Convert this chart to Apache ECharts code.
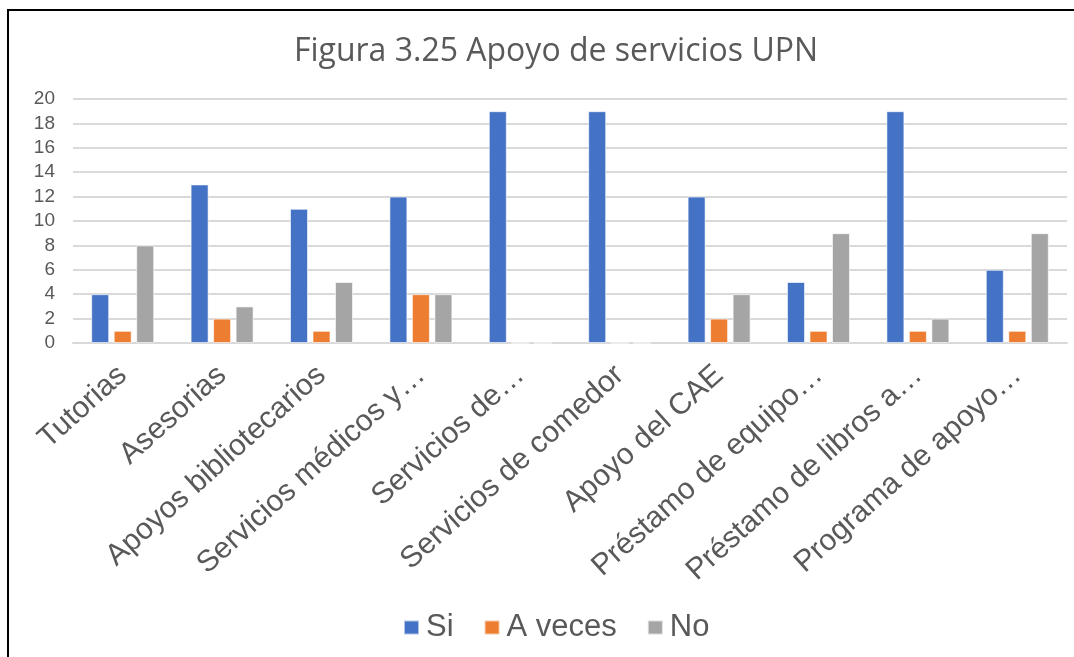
<!DOCTYPE html>
<html>
<head>
<meta charset="utf-8">
<script src="https://cdn.jsdelivr.net/npm/echarts@6/dist/echarts.min.js"></script>
<style>
    html, body {
        margin: 0;
        padding: 0;
        background: #fff;
    }
    #frame {
        position: absolute;
        left: 7px;
        top: 9px;
        width: 1080px;
        height: 660px;
        border-left: 2px solid #000;
        border-top: 2px solid #000;
    }
    #barChart {
        position: absolute;
        left: 0;
        top: 0;
        width: 1074px;
        height: 657px;
    }
</style>
</head>
<body>
<div id="frame"></div>
<div id="barChart"></div>
<script>
const categories = [
    'Tutorias',
    'Asesorias',
    'Apoyos bibliotecarios',
    'Servicios médicos y…',
    'Servicios de…',
    'Servicios de comedor',
    'Apoyo del CAE',
    'Préstamo de equipo…',
    'Préstamo de libros a…',
    'Programa de apoyo…'
];
const siValues = [4, 13, 11, 12, 19, 19, 12, 5, 19, 6];
const aVecesValues = [1, 2, 1, 4, 0, 0, 2, 1, 1, 1];
const noValues = [8, 3, 5, 4, 0, 0, 4, 9, 2, 9];
const yTicks = [0, 2, 4, 6, 8, 10, 12, 14, 16, 18, 20];

const barChart = echarts.init(document.getElementById('barChart'));

function makeSeries(name, data, color) {
    return {
        name: name,
        type: 'bar',
        data: data,
        barWidth: 18,
        barGap: '25%',
        itemStyle: {
            color: color,
            borderColor: 'rgba(255,255,255,0.6)',
            borderWidth: 1
        }
    };
}

barChart.setOption({
    backgroundColor: 'transparent',
    animation: false,
    title: {
        text: 'Figura 3.25 Apoyo de servicios UPN',
        left: 551,
        top: 31,
        textAlign: 'center',
        textStyle: {
            color: '#595959',
            fontFamily: 'Open Sans',
            fontWeight: 'normal',
            fontSize: 32
        }
    },
    legend: {
        bottom: 9,
        left: 398,
        itemWidth: 15,
        itemHeight: 14,
        itemGap: 30,
        icon: 'rect',
        textStyle: {
            color: '#595959',
            fontFamily: 'Liberation Sans',
            fontSize: 31,
            padding: [0, 0, 0, 2]
        },
        data: ['Si', 'A veces', 'No']
    },
    grid: {
        left: 73,
        right: 7,
        top: 99,
        bottom: 314
    },
    xAxis: {
        type: 'category',
        data: categories,
        axisLine: { lineStyle: { color: '#D9D9D9', width: 2 } },
        axisTick: { show: false },
        axisLabel: {
            rotate: 42,
            interval: 0,
            margin: 28,
            color: '#595959',
            fontFamily: 'Liberation Sans',
            fontSize: 30
        }
    },
    yAxis: {
        type: 'value',
        min: yTicks[0],
        max: yTicks[yTicks.length - 1],
        interval: 2,
        axisLine: { show: false },
        axisTick: { show: false },
        splitLine: { lineStyle: { color: '#D9D9D9', width: 2 } },
        axisLabel: {
            margin: 18,
            color: '#595959',
            fontFamily: 'Liberation Sans',
            fontSize: 19
        }
    },
    series: [
        makeSeries('Si', siValues, '#4472C4'),
        makeSeries('A veces', aVecesValues, '#ED7D31'),
        makeSeries('No', noValues, '#A5A5A5')
    ]
});

window.addEventListener('resize', () => {
    barChart && barChart.resize();
});
</script>
</body>
</html>
